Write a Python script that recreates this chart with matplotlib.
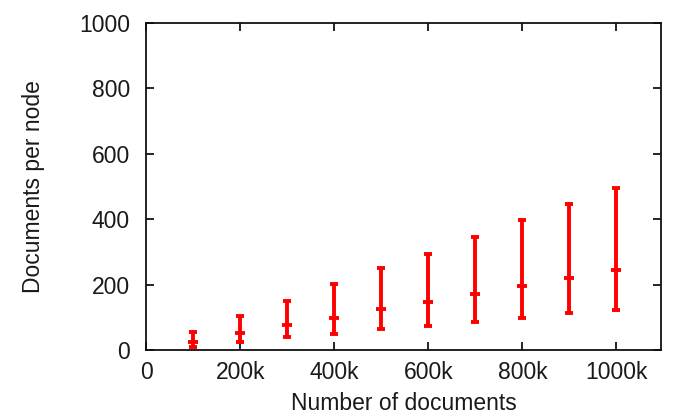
import numpy as np
import matplotlib.pyplot as plt

# documents (thousands) and documents per node: mean, min, max
n_docs = [100, 200, 300, 400, 500, 600, 700, 800, 900, 1000]
mean_per_node = [25, 51, 75, 98, 124, 147, 171, 195, 219, 244]
min_per_node = [10, 25, 39, 49, 63, 73, 85, 97, 112, 122]
max_per_node = [54, 104, 150, 201, 249, 293, 346, 397, 445, 494]

xticks = [0, 200, 400, 600, 800, 1000]
xticklabels = ['0', '200k', '400k', '600k', '800k', '1000k']

plt.rcParams['font.family'] = ['Liberation Sans', 'DejaVu Sans']
txt = '#1a1a1a'

fig = plt.figure(figsize=(6.81, 4.2), dpi=100)
ax = fig.add_axes([0.2151, 0.1667, 0.7555, 0.7793])

mean = np.array(mean_per_node)
yerr = [mean - np.array(min_per_node), np.array(max_per_node) - mean]
ax.errorbar(n_docs, mean, yerr=yerr, fmt='_', color='#ff0000', ms=7, mew=2.8,
            elinewidth=2.8, capsize=3, capthick=2.8)

ax.set_xlim(0, 1095)
ax.set_ylim(0, 1000)
ax.set_xticks(xticks)
ax.set_xticklabels(xticklabels)
ax.set_yticks(range(0, 1001, 200))
ax.tick_params(direction='in', top=True, right=True, length=6, width=1.2,
               labelsize=16.5, labelcolor=txt)
ax.tick_params(axis='y', pad=12)
ax.tick_params(axis='x', pad=8)
for s in ax.spines.values():
    s.set_linewidth(1.3)
    s.set_color('#111111')

ax.set_xlabel('Number of documents', fontsize=16.5, color=txt, labelpad=6)
ax.set_ylabel('Documents per node', fontsize=16.5, color=txt, labelpad=24)

fig.savefig('out.png', dpi=100)
